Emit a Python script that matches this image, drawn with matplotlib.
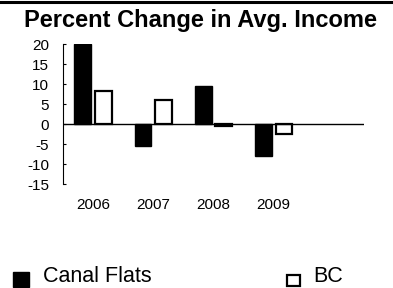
import matplotlib.pyplot as plt
import numpy as np
from matplotlib.lines import Line2D
from matplotlib.patches import Rectangle

plt.rcParams['font.family'] = ['Liberation Sans', 'DejaVu Sans']
plt.rcParams['axes.unicode_minus'] = False

years = ["2006", "2007", "2008", "2009"]
canal_flats = [20.0, -5.6, 9.6, -7.9]
bc = [8.2, 5.9, -0.4, -2.5]

W, H = 393, 288
fig = plt.figure(figsize=(W / 100, H / 100), dpi=100)
ax = fig.add_axes([63 / W, 1 - 184 / H, 301 / W, 140 / H])

x = np.arange(len(years))
w = 0.28
ax.bar(x - 0.17, canal_flats, width=w, color="black", edgecolor="black", linewidth=1)
ax.bar(x + 0.17, bc, width=w, color="white", edgecolor="black", linewidth=1.6)

ax.set_xlim(-0.5, 4.5)
ax.set_ylim(-15, 20)
ax.set_yticks(range(-15, 21, 5))
ax.set_xticks(x)
ax.set_xticklabels(years)
ax.axhline(0, color="black", linewidth=1)

for s in ["top", "right", "bottom"]:
    ax.spines[s].set_visible(False)
ax.spines["left"].set_linewidth(0.8)
ax.tick_params(axis="y", labelsize=11, direction="in", length=2.5, width=0.8, pad=10)
ax.tick_params(axis="x", labelsize=11, length=0, pad=10)

# thin frame line along the top edge of the image
fig.add_artist(Line2D([0, 391 / W], [1 - 1.5 / H, 1 - 1.5 / H], transform=fig.transFigure,
                      color="black", linewidth=2.2))

fig.text(201 / W, 1 - 20 / H, "Percent Change in Avg. Income", ha="center", va="center",
         fontsize=17, fontweight="bold")

# legend drawn by hand to match the spread-out layout
fig.add_artist(Rectangle((13 / W, 1 / H), 16 / W, 15 / H, transform=fig.transFigure,
                         facecolor="black", edgecolor="black"))
fig.add_artist(Rectangle((287 / W, 2 / H), 13 / W, 11 / H, transform=fig.transFigure,
                         facecolor="white", edgecolor="black", linewidth=1.6))
fig.text(43 / W, 1 - 276 / H, "Canal Flats", ha="left", va="center", fontsize=15.5)
fig.text(313 / W, 1 - 276 / H, "BC", ha="left", va="center", fontsize=15.5)

fig.savefig("out.png", dpi=100)
